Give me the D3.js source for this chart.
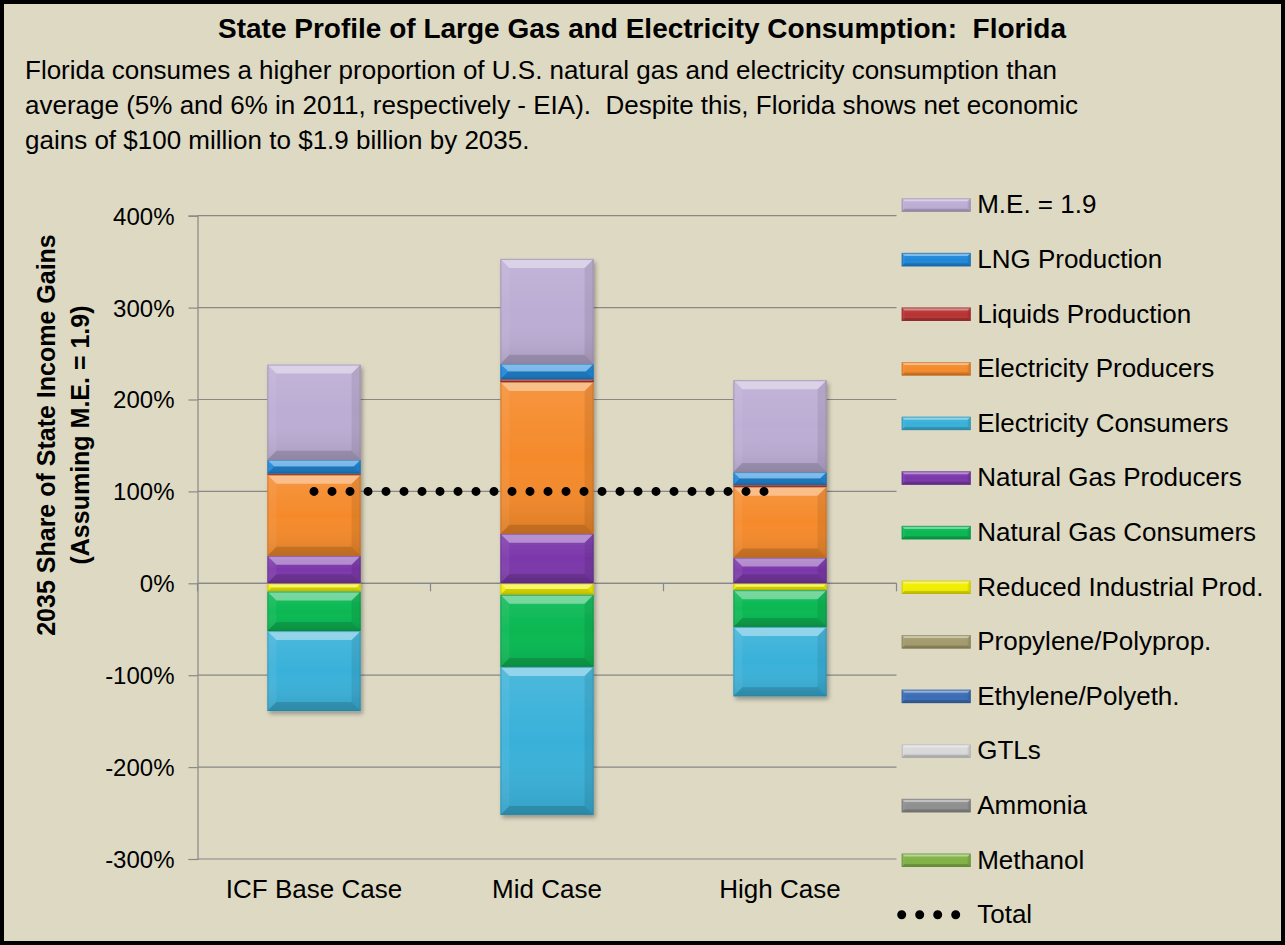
<!DOCTYPE html>
<html lang="en">
<head>
<meta charset="UTF-8">
<title>State Profile: Florida</title>
<script src="https://d3js.org/d3.v7.min.js"></script>
<style>
  body { margin: 0; background: #fff; }
  text { font-family: "Liberation Sans", Arial, sans-serif; fill: #000; white-space: pre; }
</style>
</head>
<body>
<svg></svg>
<script>
const width = 1285, height = 945;

// categories and series (bottom of stack first, legend shows them reversed)
const categories = ["ICF Base Case", "Mid Case", "High Case"];
const seriesNames = [
  "Methanol", "Ammonia", "GTLs", "Ethylene/Polyeth.", "Propylene/Polyprop.",
  "Reduced Industrial Prod.", "Natural Gas Consumers", "Natural Gas Producers",
  "Electricity Consumers", "Electricity Producers", "Liquids Production",
  "LNG Production", "M.E. = 1.9"
];
// values in % of state income gains, per category
const methanol          = [0, 0, 0];
const ammonia           = [0, 0, 0];
const gtls              = [0, 0, 0];
const ethylene          = [0, 0, 0];
const propylene         = [0, 0, 0];
const reducedIndustrial = [-9, -12.5, -7.5];
const gasConsumers      = [-43, -78.5, -40];
const gasProducers      = [30, 54, 28];
const elecConsumers     = [-87, -161, -75.5];
const elecProducers     = [88, 165, 77];
const liquids           = [1.5, 3, 2];
const lng               = [15, 17, 14];
const me                = [103.5, 114, 100];
const total             = [100, 100, 100];
const yTicks = [-300, -200, -100, 0, 100, 200, 300, 400];

const seriesValues = [methanol, ammonia, gtls, ethylene, propylene, reducedIndustrial,
  gasConsumers, gasProducers, elecConsumers, elecProducers, liquids, lng, me];
const colors = ["#80b244", "#8f8f8f", "#d9d9d9", "#3a6db5", "#a39b6c", "#f2ee00",
  "#08b852", "#7b37aa", "#39b1d9", "#f58a2b", "#b83333", "#1f87d8", "#bcadd4"];

const title = "State Profile of Large Gas and Electricity Consumption:  Florida";
const intro = [
  "Florida consumes a higher proportion of U.S. natural gas and electricity consumption than",
  "average (5% and 6% in 2011, respectively - EIA).  Despite this, Florida shows net economic",
  "gains of $100 million to $1.9 billion by 2035."
];

const plot = {left: 197.5, right: 896.5, top: 215.7, bottom: 859};

const svg = d3.select("svg").attr("width", width).attr("height", height);

// frame
svg.append("rect")
  .attr("x", 2).attr("y", 2).attr("width", width - 4).attr("height", height - 4)
  .attr("fill", "#ddd9c3").attr("stroke", "#000").attr("stroke-width", 4);

svg.append("text")
  .attr("x", 642).attr("y", 38)
  .attr("text-anchor", "middle")
  .style("font-size", "28px").style("font-weight", "bold")
  .text(title);

svg.append("g").selectAll("text")
  .data(intro).join("text")
  .attr("x", 25).attr("y", (d, i) => 79 + i * 35)
  .style("font-size", "26px")
  .text(d => d);

const defs = svg.append("defs");
const shadow = defs.append("filter").attr("id", "shadow")
  .attr("x", "-20%").attr("y", "-20%").attr("width", "140%").attr("height", "140%");
shadow.append("feDropShadow")
  .attr("dx", 2).attr("dy", 3).attr("stdDeviation", 2)
  .attr("flood-color", "#000").attr("flood-opacity", 0.3);
const shade = defs.append("linearGradient").attr("id", "shade")
  .attr("x1", 0).attr("y1", 0).attr("x2", 0).attr("y2", 1);
shade.append("stop").attr("offset", 0).attr("stop-color", "#fff").attr("stop-opacity", 0.1);
shade.append("stop").attr("offset", 0.5).attr("stop-color", "#fff").attr("stop-opacity", 0);
shade.append("stop").attr("offset", 1).attr("stop-color", "#000").attr("stop-opacity", 0.1);

const x = d3.scaleBand().domain(categories).range([plot.left, plot.right]);
const y = d3.scaleLinear().domain([-300, 400]).range([plot.bottom, plot.top]);

// gridlines
svg.append("g").selectAll("line")
  .data(yTicks).join("line")
  .attr("x1", plot.left).attr("x2", plot.right)
  .attr("y1", d => y(d)).attr("y2", d => y(d))
  .attr("stroke", "#888").attr("stroke-width", 1.2);

// y axis
const yAxis = svg.append("g")
  .attr("transform", `translate(${plot.left},0)`)
  .call(d3.axisLeft(y).tickValues(yTicks).tickSize(9).tickPadding(14).tickFormat(d => d + "%"));
yAxis.select(".domain").attr("stroke", "#888").attr("stroke-width", 1.2);
yAxis.selectAll(".tick line").attr("stroke", "#888").attr("stroke-width", 1.2);
yAxis.selectAll(".tick text")
  .style("font-size", "24px").style("font-family", "'Liberation Sans', Arial, sans-serif")
  .attr("fill", "#000").attr("dy", "0.35em");

// x axis line at 0 with ticks between categories
const xLine = svg.append("g");
xLine.append("line")
  .attr("x1", plot.left).attr("x2", plot.right)
  .attr("y1", y(0)).attr("y2", y(0))
  .attr("stroke", "#888").attr("stroke-width", 1.2);
xLine.selectAll(".bt")
  .data(categories.map(c => x(c) + x.bandwidth()).concat([x(categories[0])]))
  .join("line")
  .attr("x1", d => d).attr("x2", d => d)
  .attr("y1", y(0)).attr("y2", y(0) + 8)
  .attr("stroke", "#888").attr("stroke-width", 1.2);

// category labels at bottom
const xAxis = svg.append("g")
  .attr("transform", `translate(0,${plot.bottom})`)
  .call(d3.axisBottom(x).tickSize(0).tickPadding(21));
xAxis.select(".domain").remove();
xAxis.selectAll(".tick text")
  .style("font-size", "26px").style("font-family", "'Liberation Sans', Arial, sans-serif")
  .attr("fill", "#000");

// y title
const yt = svg.append("g").attr("transform", "translate(0,435) rotate(-90)");
yt.append("text").attr("x", 0).attr("y", 55).attr("text-anchor", "middle")
  .style("font-size", "25px").style("font-weight", "bold")
  .text("2035 Share of State Income Gains");
yt.append("text").attr("x", 0).attr("y", 89).attr("text-anchor", "middle")
  .style("font-size", "25px").style("font-weight", "bold")
  .text("(Assuming M.E. = 1.9)");

// stacked bars
const table = categories.map((c, i) => {
  const row = {category: c};
  seriesNames.forEach((s, j) => { row[s] = seriesValues[j][i]; });
  return row;
});
const stacked = d3.stack().keys(seriesNames).offset(d3.stackOffsetDiverging)(table);

function bevel(g, x0, y0, w, h, color, size) {
  const b = Math.min(size, h / 2, w / 2);
  g.append("rect").attr("x", x0).attr("y", y0).attr("width", w).attr("height", h)
    .attr("fill", color);
  g.append("rect").attr("x", x0).attr("y", y0).attr("width", w).attr("height", h)
    .attr("fill", "url(#shade)");
  const faces = [
    {pts: [[x0, y0], [x0 + w, y0], [x0 + w - b, y0 + b], [x0 + b, y0 + b]], fill: "#fff", op: 0.4},
    {pts: [[x0, y0 + h], [x0 + w, y0 + h], [x0 + w - b, y0 + h - b], [x0 + b, y0 + h - b]], fill: "#000", op: 0.14},
    {pts: [[x0, y0], [x0 + b, y0 + b], [x0 + b, y0 + h - b], [x0, y0 + h]], fill: "#fff", op: 0.06},
    {pts: [[x0 + w, y0], [x0 + w - b, y0 + b], [x0 + w - b, y0 + h - b], [x0 + w, y0 + h]], fill: "#000", op: 0.08}
  ];
  faces.forEach(f => g.append("polygon")
    .attr("points", f.pts.map(p => p.join(",")).join(" "))
    .attr("fill", f.fill).attr("fill-opacity", f.op));
  g.append("rect").attr("x", x0 + 0.5).attr("y", y0 + 0.5)
    .attr("width", Math.max(0, w - 1)).attr("height", Math.max(0, h - 1))
    .attr("fill", "none").attr("stroke", d3.color(color).darker(0.8)).attr("stroke-opacity", 0.6);
}

const barW = x.bandwidth() * 0.4;
const bars = svg.append("g").attr("filter", "url(#shadow)");
stacked.forEach((layer, j) => {
  layer.forEach(seg => {
    const top = y(Math.max(seg[0], seg[1]));
    const h = Math.abs(y(seg[0]) - y(seg[1]));
    if (h < 0.5) return;
    bevel(bars.append("g"), x(seg.data.category) + x.bandwidth() * 0.3, top, barW, h, colors[j], 9);
  });
});

// total line (round dots)
const line = d3.line()
  .x((d, i) => x(categories[i]) + x.bandwidth() / 2)
  .y(d => y(d));
svg.append("path")
  .datum(total)
  .attr("d", line)
  .attr("fill", "none").attr("stroke", "#000")
  .attr("stroke-width", 9).attr("stroke-linecap", "round")
  .attr("stroke-dasharray", "0 18");

// legend
const legendItems = seriesNames.slice().reverse();
const legendColors = colors.slice().reverse();
const legend = svg.append("g").attr("transform", "translate(901.7,205)");
legendItems.forEach((name, i) => {
  const g = legend.append("g").attr("transform", `translate(0,${i * 54.6})`);
  bevel(g, 0, -6.7, 69, 13.4, legendColors[i], 3);
  g.append("text").attr("x", 75.5).attr("y", 0).attr("dy", "0.32em")
    .style("font-size", "26px").text(name);
});
const tg = legend.append("g").attr("transform", `translate(0,${legendItems.length * 54.6})`);
tg.append("line").attr("x1", 0).attr("x2", 55).attr("y1", 0).attr("y2", 0)
  .attr("stroke", "#000").attr("stroke-width", 9).attr("stroke-linecap", "round")
  .attr("stroke-dasharray", "0 18");
tg.append("text").attr("x", 75.5).attr("y", 0).attr("dy", "0.32em")
  .style("font-size", "26px").text("Total");
</script>
</body>
</html>
